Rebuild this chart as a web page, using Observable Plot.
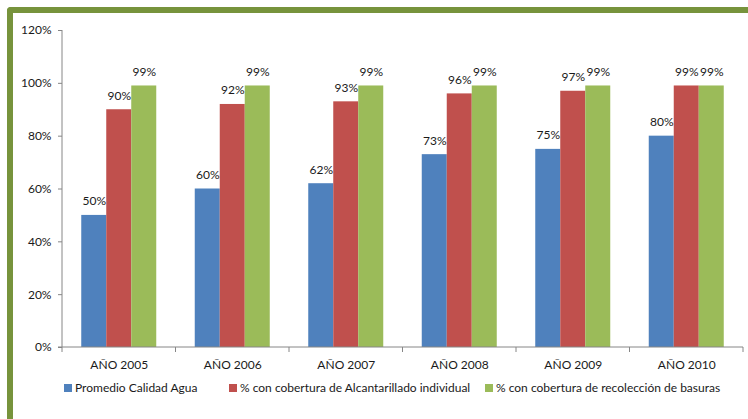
<!DOCTYPE html>
<html>
<head>
<meta charset="utf-8">
<script src="https://cdn.jsdelivr.net/npm/d3@7"></script>
<script src="https://cdn.jsdelivr.net/npm/@observablehq/plot@0.6"></script>
<style>
  html, body { margin: 0; padding: 0; background: #fff; }
  #wrap { position: relative; width: 748px; height: 419px; overflow: hidden; font-family: Lato, "Open Sans", sans-serif; font-weight: 400; }
  #border { position: absolute; left: 7px; top: 7px; width: 800px; height: 500px;
            border-left: 6px solid #77933C; border-top: 6px solid #77933C; border-top-left-radius: 4px; }
  #chart { position: absolute; left: 0; top: 0; }
  .leg { position: absolute; top: 380px; display: flex; align-items: center; font-size: 12px; color: #1a1a1a; white-space: nowrap; }
  .sw { width: 8px; height: 8px; margin-right: 3px; }
</style>
</head>
<body>
<div id="wrap">
  <div id="border"></div>
  <div id="chart"></div>
  <div id="legend"></div>
</div>
<script>
const years = ["AÑO 2005", "AÑO 2006", "AÑO 2007", "AÑO 2008", "AÑO 2009", "AÑO 2010"];
const series = [
  "Promedio Calidad Agua",
  "% con cobertura de Alcantarillado individual",
  "% con cobertura de recolección de basuras"
];
const agua = [50, 60, 62, 73, 75, 80];
const alcantarillado = [90, 92, 93, 96, 97, 99];
const basuras = [99, 99, 99, 99, 99, 99];
const yTicks = [0, 20, 40, 60, 80, 100, 120];
const colors = ["#4F81BD", "#C0504D", "#9BBB59"];
const legendLeft = [64, 229, 485];

const seriesValues = [agua, alcantarillado, basuras];
const rows = [];
years.forEach((year, i) => {
  series.forEach((s, j) => rows.push({year, series: s, value: seriesValues[j][i]}));
});

const axisColor = "#868686";

const plot = Plot.plot({
  width: 748,
  height: 380,
  marginLeft: 62,
  marginRight: 5,
  marginTop: 30,
  marginBottom: 33,
  style: {fontFamily: "Lato, 'Open Sans', sans-serif", fontWeight: 400, fontSize: "12px", color: "#1a1a1a", background: "transparent", overflow: "visible"},
  fx: {domain: years, padding: 0, round: false, label: null},
  x: {domain: series, axis: null, paddingInner: 0, paddingOuter: 0.77, round: false},
  y: {domain: [0, 120], label: null},
  color: {domain: series, range: colors},
  marks: [
    Plot.axisY({ticks: yTicks, tickFormat: d => d + "%", tickSize: 4, tickPadding: 7, stroke: axisColor, fill: "#1a1a1a", label: null}),
    Plot.axisFx({anchor: "bottom", tickSize: 0, tickPadding: 13, label: null, fill: "#1a1a1a"}),
    Plot.barY(rows, {fx: "year", x: "series", y: "value", fill: "series"}),
    Plot.text(rows, {fx: "year", x: "series", y: "value", text: d => d.value + "%", dy: -14, fill: "#1a1a1a", fontSize: 12})
  ]
});

// axis lines and category separators, positioned through Plot's own scales
const fx = plot.scale("fx");
const y = plot.scale("y");
const svg = d3.select(plot);
const g = svg.append("g").attr("stroke", axisColor).attr("stroke-width", 1);
const x0 = fx.range[0], x1 = fx.range[1];
const y0 = y.apply(0), yTop = y.apply(120);
g.append("line").attr("x1", x0).attr("x2", x0).attr("y1", yTop).attr("y2", y0);
g.append("line").attr("x1", x0 - 4).attr("x2", x1).attr("y1", y0).attr("y2", y0);
const edges = years.map(d => fx.apply(d)).concat([fx.apply(years[years.length - 1]) + fx.step]);
edges.forEach(e => g.append("line").attr("x1", e).attr("x2", e).attr("y1", y0).attr("y2", y0 + 5));

document.getElementById("chart").appendChild(plot);

const legend = document.getElementById("legend");
series.forEach((s, i) => {
  const item = document.createElement("div");
  item.className = "leg";
  item.style.left = legendLeft[i] + "px";
  item.innerHTML = `<span class="sw" style="background:${colors[i]}"></span><span>${s}</span>`;
  legend.appendChild(item);
});
</script>
</body>
</html>
